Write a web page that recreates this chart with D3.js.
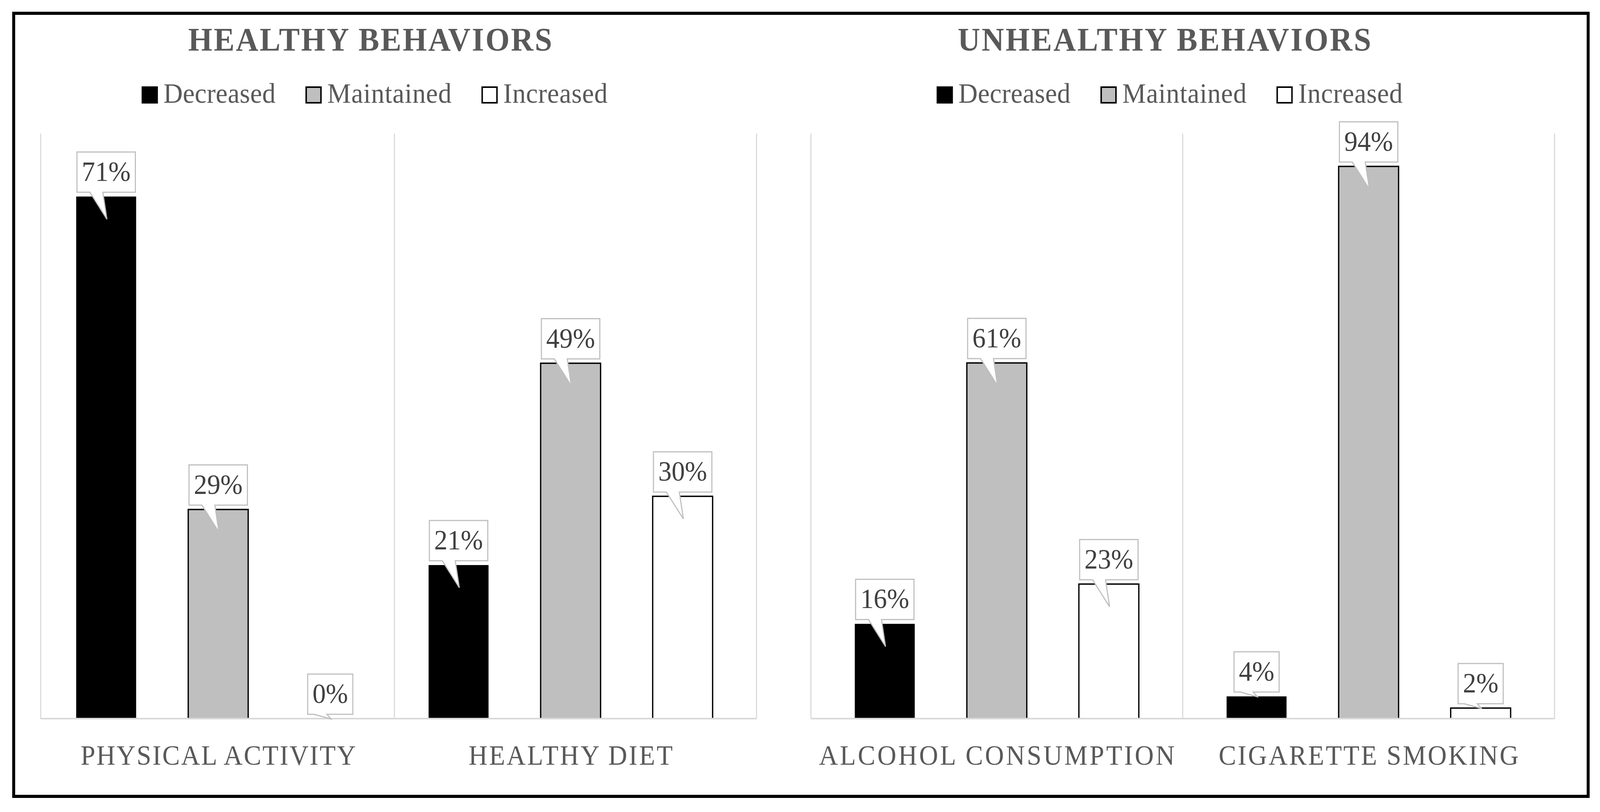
<!DOCTYPE html>
<html><head><meta charset="utf-8">
<script src="https://cdn.jsdelivr.net/npm/d3@7"></script>
<style>
html,body{margin:0;padding:0;background:#fff;width:100%;height:100%;overflow:hidden;}
svg{display:block;width:100vw;height:100vh;}
</style>
</head><body>
<svg id="chart" viewBox="0 0 4327 2078" preserveAspectRatio="none"></svg>
<script>
// ---- data ----
const series = ["Decreased", "Maintained", "Increased"];
const healthyTitle = "HEALTHY BEHAVIORS";
const healthyCategories = ["PHYSICAL ACTIVITY", "HEALTHY DIET"];
const healthyDecreased = [71.4, 21.0];
const healthyMaintained = [28.6, 48.6];
const healthyIncreased = [0, 30.4];
const healthyYMax = 80;
const unhealthyTitle = "UNHEALTHY BEHAVIORS";
const unhealthyCategories = ["ALCOHOL CONSUMPTION", "CIGARETTE SMOKING"];
const unhealthyDecreased = [16.2, 3.8];
const unhealthyMaintained = [60.8, 94.4];
const unhealthyIncreased = [23.0, 1.8];
const unhealthyYMax = 100;

// ---- styles / layout ----
const FONT = "'Book Antiqua','Palatino Linotype',Palatino,'Liberation Serif',serif";
const TEXT = "#595959";
const fills = {Decreased: "#000000", Maintained: "#bfbfbf", Increased: "#ffffff"};
const plotTop = 342, baseY = 1839;

const panels = [
  {title: healthyTitle, cats: healthyCategories,
   values: [healthyDecreased, healthyMaintained, healthyIncreased], yMax: healthyYMax,
   xr: [110, 2046], po: 0.0157, align: 0.12, titleCx: 1001, titleW: 984,
   legendX: 383, catW: [744, 552]},
  {title: unhealthyTitle, cats: unhealthyCategories,
   values: [unhealthyDecreased, unhealthyMaintained, unhealthyIncreased], yMax: unhealthyYMax,
   xr: [2193, 4204], po: 0, align: 0.5, titleCx: 3149, titleW: 1118,
   legendX: 2533, catW: [962, 811]}
];
const legendTextW = [303, 336, 282];

const svg = d3.select("#chart");
svg.append("rect").attr("width", 4327).attr("height", 2078).attr("fill", "#fff");

const x1 = d3.scaleBand().domain(series).range([-454.5, 454.5])
  .paddingInner(0.465).paddingOuter(0.2325);

panels.forEach(p => {
  const g = svg.append("g");
  const x0 = d3.scaleBand().domain(p.cats).range(p.xr)
    .paddingInner(0).paddingOuter(p.po).align(p.align);
  const y = d3.scaleLinear().domain([0, p.yMax]).range([baseY, plotTop]);

  // gridlines (category separators)
  const gx = [p.xr[0]].concat(p.cats.slice(1).map(c => x0(c))).concat([p.xr[1]]);
  g.selectAll("line.grid").data(gx).enter().append("line")
    .attr("x1", d => d).attr("x2", d => d)
    .attr("y1", y(p.yMax)).attr("y2", y(0))
    .attr("stroke", "#d9d9d9").attr("stroke-width", 3);

  // bars
  const rows = [];
  p.cats.forEach((c, ci) => series.forEach((s, si) => {
    rows.push({cat: c, s: s, v: p.values[si][ci],
      cx: x0(c) + x0.bandwidth() / 2});
  }));
  g.selectAll("rect.bar").data(rows.filter(d => d.v > 0)).enter().append("rect")
    .attr("x", d => d.cx + x1(d.s)).attr("width", x1.bandwidth())
    .attr("y", d => y(d.v)).attr("height", d => y(0) - y(d.v))
    .attr("fill", d => fills[d.s])
    .attr("stroke", d => d.s === "Decreased" ? "none" : "#000")
    .attr("stroke-width", 3.5);

  // baseline
  g.append("line").attr("x1", p.xr[0]).attr("x2", p.xr[1])
    .attr("y1", y(0)).attr("y2", y(0))
    .attr("stroke", "#d9d9d9").attr("stroke-width", 4);

  // callout labels
  rows.forEach(d => {
    const bx = d.cx + x1(d.s) + x1.bandwidth() / 2;
    const top = y(d.v);
    const h = y(0) - top;
    const label = Math.round(d.v) + "%";
    const t = g.append("text").attr("x", bx).attr("text-anchor", "middle")
      .attr("font-family", FONT).attr("font-size", 72).attr("fill", "#404040")
      .text(label);
    const tw = t.node().getComputedTextLength();
    const bw = tw + 26, bh = 103;
    const x0b = bx - bw / 2, x1b = bx + bw / 2;
    const y1b = top - 11, y0b = y1b - bh;
    const tipY = h > 120 ? top + 58 : top + 1;
    const path = `M${x0b},${y0b}H${x1b}V${y1b}H${bx - 9}L${bx + 2},${tipY}L${bx - 44},${y1b}H${x0b}Z`;
    g.insert("path", () => t.node()).attr("d", path)
      .attr("fill", "#fff").attr("stroke", "#bfbfbf").attr("stroke-width", 3)
      .attr("stroke-linejoin", "miter");
    t.attr("y", y0b + 74);
  });

  // category labels
  p.cats.forEach((c, i) => {
    const cx = x0(c) + x0.bandwidth() / 2;
    g.append("text").attr("x", cx - p.catW[i] / 2).attr("y", 1957)
      .attr("font-family", FONT).attr("font-size", 71).attr("fill", TEXT)
      .attr("textLength", p.catW[i]).attr("lengthAdjust", "spacing")
      .text(c);
  });

  // title
  g.append("text").attr("x", p.titleCx - p.titleW / 2).attr("y", 130)
    .attr("font-family", FONT).attr("font-size", 84).attr("font-weight", "bold")
    .attr("fill", TEXT).attr("textLength", p.titleW).attr("lengthAdjust", "spacing")
    .text(p.title);

  // legend
  let lx = p.legendX;
  series.forEach((s, i) => {
    g.append("rect").attr("x", lx + 2).attr("y", 223).attr("width", 40).attr("height", 40)
      .attr("fill", fills[s]).attr("stroke", "#000").attr("stroke-width", 4);
    g.append("text").attr("x", lx + 59).attr("y", 263)
      .attr("font-family", FONT).attr("font-size", 72).attr("fill", TEXT)
      .attr("textLength", legendTextW[i]).attr("lengthAdjust", "spacing")
      .text(s);
    lx += 59 + legendTextW[i] + 81;
  });
});

// outer frame
svg.append("rect").attr("x", 37).attr("y", 34).attr("width", 4258).attr("height", 2004)
  .attr("fill", "none").attr("stroke", "#000").attr("stroke-width", 8);
</script>
</body></html>
